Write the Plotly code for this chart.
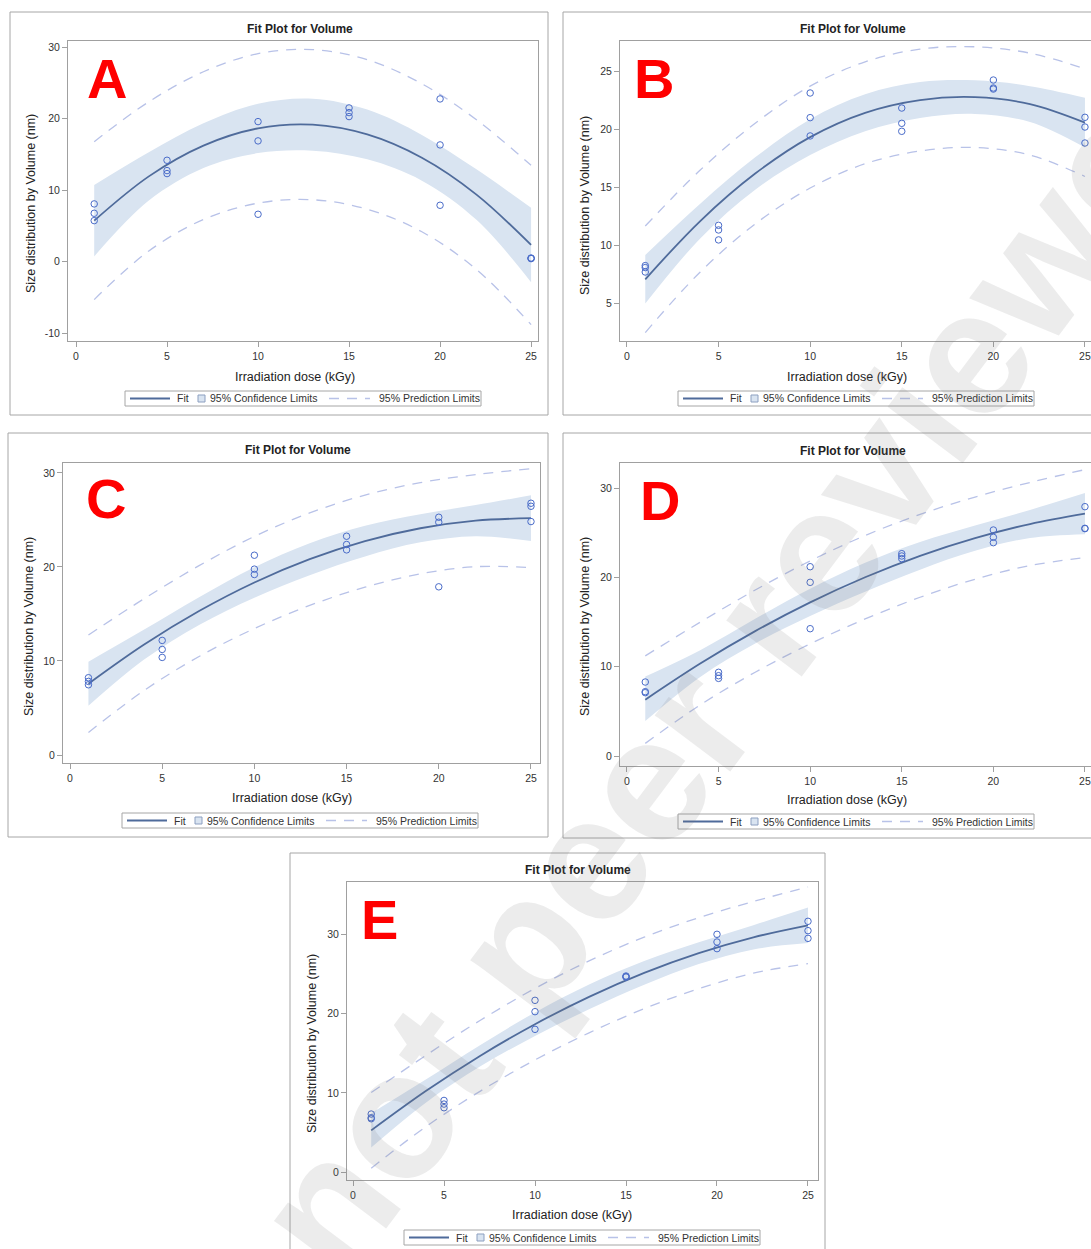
import plotly.graph_objects as go

W, H = 1091, 1249

# ---------------- data ----------------
dose_obs = [1, 1, 1, 5, 5, 5, 10, 10, 10, 15, 15, 15, 20, 20, 20, 25, 25, 25]
dose_grid = [1, 4, 7, 10, 13, 16, 19, 22, 25]

vol_A = [8.07, 6.76, 5.73, 14.17, 12.73, 12.31, 19.58, 16.88, 6.62,
         21.49, 20.84, 20.28, 22.75, 16.32, 7.88, 0.42, 0.50, 0.46]
fit_A = [5.73, 11.92, 16.22, 18.63, 19.15, 17.78, 14.52, 9.37, 2.33]
cl_lo_A = [0.73, 8.53, 13.09, 15.18, 15.51, 14.30, 11.32, 5.84, -2.87]
cl_hi_A = [10.73, 15.31, 19.35, 22.08, 22.79, 21.26, 17.72, 12.90, 7.53]
pl_lo_A = [-5.31, 1.49, 5.89, 8.18, 8.65, 7.33, 4.17, -1.10, -8.81]
pl_hi_A = [16.77, 22.35, 26.55, 29.08, 29.65, 28.23, 24.87, 19.84, 13.47]

vol_B = [8.25, 8.08, 7.70, 11.73, 11.33, 10.47, 23.16, 21.03, 19.45,
         21.86, 20.54, 19.85, 24.28, 23.59, 23.50, 21.06, 20.22, 18.84]
fit_B = [7.07, 12.10, 16.20, 19.35, 21.45, 22.55, 22.80, 22.20, 20.60]
cl_lo_B = [4.97, 10.60, 14.80, 17.80, 19.85, 21.00, 21.35, 20.65, 18.45]
cl_hi_B = [9.17, 13.60, 17.60, 20.90, 23.05, 24.10, 24.25, 23.75, 22.75]
pl_lo_B = [2.47, 7.70, 11.85, 14.95, 17.05, 18.15, 18.45, 17.80, 15.95]
pl_hi_B = [11.67, 16.50, 20.55, 23.75, 25.85, 26.95, 27.15, 26.60, 25.25]

vol_C = [8.22, 7.83, 7.47, 12.19, 11.23, 10.38, 21.25, 19.77, 19.20,
         23.27, 22.39, 21.82, 25.29, 24.76, 17.89, 26.78, 26.46, 24.83]
fit_C = [7.58, 11.72, 15.31, 18.35, 20.83, 22.75, 24.12, 24.93, 25.19]
cl_lo_C = [5.23, 10.12, 13.83, 16.73, 19.13, 21.12, 22.62, 23.28, 22.76]
cl_hi_C = [9.93, 13.32, 16.79, 19.97, 22.53, 24.38, 25.62, 26.58, 27.62]
pl_lo_C = [2.39, 6.84, 10.48, 13.45, 15.91, 17.85, 19.27, 20.03, 19.93]
pl_hi_C = [12.77, 16.60, 20.14, 23.25, 25.75, 27.65, 28.97, 29.83, 30.45]

vol_D = [8.28, 7.20, 7.09, 9.37, 8.99, 8.69, 21.19, 19.44, 14.25,
         22.65, 22.39, 22.09, 25.30, 24.48, 23.88, 27.91, 25.49, 25.45]
fit_D = [6.31, 10.35, 13.98, 17.20, 20.01, 22.41, 24.39, 25.97, 27.13]
cl_lo_D = [3.91, 8.85, 12.59, 15.67, 18.39, 20.86, 22.97, 24.40, 24.83]
cl_hi_D = [8.90, 11.85, 15.37, 18.73, 21.63, 23.96, 25.81, 27.54, 29.43]
pl_lo_D = [1.41, 5.72, 9.38, 12.56, 15.34, 17.77, 19.79, 21.32, 22.20]
pl_hi_D = [11.21, 14.98, 18.58, 21.84, 24.68, 27.05, 28.99, 30.62, 32.06]

vol_E = [7.32, 6.86, 6.73, 9.04, 8.58, 8.12, 21.67, 20.24, 18.01,
         24.74, 24.65, 24.61, 30.00, 29.03, 28.19, 31.64, 30.46, 29.49]
fit_E = [5.26, 10.22, 14.69, 18.66, 22.14, 25.13, 27.62, 29.62, 31.13]
cl_lo_E = [3.10, 8.76, 13.34, 17.17, 20.57, 23.63, 26.24, 28.09, 28.89]
cl_hi_E = [7.42, 11.68, 16.04, 20.15, 23.71, 26.63, 29.00, 31.15, 33.37]
pl_lo_E = [0.49, 5.72, 10.22, 14.15, 17.60, 20.62, 23.14, 25.10, 26.29]
pl_hi_E = [10.03, 14.72, 19.16, 23.17, 26.68, 29.64, 32.10, 34.14, 35.97]

x_ticks = [0, 5, 10, 15, 20, 25]
y_ticks_A = [-10, 0, 10, 20, 30]
y_ticks_B = [5, 10, 15, 20, 25]
y_ticks_CDE = [0, 10, 20, 30]

panel_letters = ["A", "B", "C", "D", "E"]
title_text = "Fit Plot for Volume"
x_title = "Irradiation dose (kGy)"
y_title = "Size distribution by Volume (nm)"
legend_labels = ["Fit", "95% Confidence Limits", "95% Prediction Limits"]
watermark_text = "not peer reviewed"

# ---------------- styling ----------------
FONT = "Liberation Sans, Arial, sans-serif"
FIT_COLOR = "#4f6b9b"
BAND_COLOR = "rgb(217,228,241)"
PL_COLOR = "rgb(184,194,232)"
MARK_COLOR = "#4a6cc9"
FRAME = "#a0a0a0"
TXT = "#222222"

panels = [
    dict(letter="A", obs=vol_A, fit=fit_A, cl=(cl_lo_A, cl_hi_A), pl=(pl_lo_A, pl_hi_A),
         frame=(68, 41, 538, 341), xr=[-0.44, 25.38], yr=[-11.1, 30.85], yt=y_ticks_A,
         box=(10, 12, 548, 415), title=(300, 29), xtl=(295, 377), ytl=(31, 204),
         leg=(125, 391), let=(107, 78), right=True),
    dict(letter="B", obs=vol_B, fit=fit_B, cl=(cl_lo_B, cl_hi_B), pl=(pl_lo_B, pl_hi_B),
         frame=(620, 41, 1091, 341), xr=[-0.38, 25.33], yr=[1.74, 27.65], yt=y_ticks_B,
         box=(563, 12, 1100, 415), title=(853, 29), xtl=(847, 377), ytl=(585, 205),
         leg=(678, 391), let=(654, 78), right=False),
    dict(letter="C", obs=vol_C, fit=fit_C, cl=(cl_lo_C, cl_hi_C), pl=(pl_lo_C, pl_hi_C),
         frame=(63, 463, 540, 763), xr=[-0.38, 25.49], yr=[-0.85, 31.06], yt=y_ticks_CDE,
         box=(8, 433, 548, 837), title=(298, 450), xtl=(292, 798), ytl=(29, 627),
         leg=(122, 813), let=(106, 499), right=True),
    dict(letter="D", obs=vol_D, fit=fit_D, cl=(cl_lo_D, cl_hi_D), pl=(pl_lo_D, pl_hi_D),
         frame=(620, 463, 1091, 766), xr=[-0.38, 25.33], yr=[-1.12, 32.8], yt=y_ticks_CDE,
         box=(563, 433, 1100, 838), title=(853, 451), xtl=(847, 800), ytl=(585, 626),
         leg=(678, 814), let=(660, 501), right=False),
    dict(letter="E", obs=vol_E, fit=fit_E, cl=(cl_lo_E, cl_hi_E), pl=(pl_lo_E, pl_hi_E),
         frame=(347, 882, 818, 1180), xr=[-0.33, 25.55], yr=[-1.0, 36.6], yt=y_ticks_CDE,
         box=(290, 853, 825, 1262), title=(578, 870), xtl=(572, 1215), ytl=(312, 1044),
         leg=(404, 1230), let=(379, 919), right=True),
]


def px(v):
    return v / W


def py(v):
    return 1 - v / H


fig = go.Figure()
shapes = []
annotations = []
layout_axes = {}

for i, p in enumerate(panels, start=1):
    sfx = "" if i == 1 else str(i)
    xa, ya = "x" + sfx, "y" + sfx
    lo, hi = p["cl"]
    plo, phi = p["pl"]
    # confidence band
    fig.add_trace(go.Scatter(x=dose_grid, y=lo, xaxis=xa, yaxis=ya, mode="lines",
                             line=dict(width=0, shape="spline", color=BAND_COLOR),
                             showlegend=False, hoverinfo="skip"))
    fig.add_trace(go.Scatter(x=dose_grid, y=hi, xaxis=xa, yaxis=ya, mode="lines",
                             fill="tonexty", fillcolor=BAND_COLOR,
                             line=dict(width=0, shape="spline", color=BAND_COLOR),
                             name="95% Confidence Limits", showlegend=False))
    # prediction limits
    for arr in (plo, phi):
        fig.add_trace(go.Scatter(x=dose_grid, y=arr, xaxis=xa, yaxis=ya, mode="lines",
                                 line=dict(width=1.3, shape="spline", color=PL_COLOR,
                                           dash="10px,8px"),
                                 name="95% Prediction Limits", showlegend=False))
    # fit
    fig.add_trace(go.Scatter(x=dose_grid, y=p["fit"], xaxis=xa, yaxis=ya, mode="lines",
                             line=dict(width=1.8, shape="spline", color=FIT_COLOR),
                             name="Fit", showlegend=False))
    # observations
    fig.add_trace(go.Scatter(x=dose_obs, y=p["obs"], xaxis=xa, yaxis=ya, mode="markers",
                             marker=dict(symbol="circle-open", size=6.5, color=MARK_COLOR,
                                         line=dict(width=1, color=MARK_COLOR)),
                             name="Volume", showlegend=False))

    fx0, fy0, fx1, fy1 = p["frame"]
    layout_axes["xaxis" + sfx] = dict(
        domain=[px(fx0), px(fx1)], anchor=ya, range=p["xr"],
        tickvals=x_ticks, ticktext=[str(t) for t in x_ticks],
        ticks="outside", ticklen=5, tickcolor=FRAME, tickwidth=1,
        showline=True, linecolor=FRAME, linewidth=1, mirror=True,
        showgrid=False, zeroline=False, fixedrange=True,
        tickfont=dict(family=FONT, size=10.5, color="#333333"))
    layout_axes["yaxis" + sfx] = dict(
        domain=[py(fy1), py(fy0)], anchor=xa, range=p["yr"],
        tickvals=p["yt"], ticktext=[str(t) for t in p["yt"]],
        ticks="outside", ticklen=5, tickcolor=FRAME, tickwidth=1,
        showline=True, linecolor=FRAME, linewidth=1, mirror=p["right"],
        showgrid=False, zeroline=False, fixedrange=True,
        tickfont=dict(family=FONT, size=10.5, color="#333333"))

    # outer panel box
    bx0, by0, bx1, by1 = p["box"]
    shapes.append(dict(type="rect", xref="paper", yref="paper",
                       x0=px(bx0), x1=px(bx1), y0=py(by1), y1=py(by0),
                       line=dict(color="#a6a6a6", width=1), fillcolor="rgba(0,0,0,0)",
                       layer="below"))

    # titles
    annotations.append(dict(text="<b>" + title_text + "</b>", x=px(p["title"][0]),
                            y=py(p["title"][1]), xref="paper", yref="paper",
                            showarrow=False, xanchor="center", yanchor="middle",
                            font=dict(family=FONT, size=12, color=TXT)))
    annotations.append(dict(text=x_title, x=px(p["xtl"][0]), y=py(p["xtl"][1]),
                            xref="paper", yref="paper", showarrow=False,
                            xanchor="center", yanchor="middle",
                            font=dict(family=FONT, size=12.5, color=TXT)))
    annotations.append(dict(text=y_title, x=px(p["ytl"][0]), y=py(p["ytl"][1]),
                            xref="paper", yref="paper", showarrow=False, textangle=-90,
                            xanchor="center", yanchor="middle",
                            font=dict(family=FONT, size=12.5, color=TXT)))
    # panel letter
    annotations.append(dict(text="<b>" + p["letter"] + "</b>", x=px(p["let"][0]),
                            y=py(p["let"][1]), xref="paper", yref="paper",
                            showarrow=False, xanchor="center", yanchor="middle",
                            font=dict(family=FONT, size=56, color="#ff0000")))

    # legend (drawn per panel)
    L, T = p["leg"]
    cy = T + 7.5
    shapes.append(dict(type="rect", xref="paper", yref="paper",
                       x0=px(L), x1=px(L + 356), y0=py(T + 15), y1=py(T),
                       line=dict(color="#a6a6a6", width=1), fillcolor="white"))
    shapes.append(dict(type="line", xref="paper", yref="paper",
                       x0=px(L + 5), x1=px(L + 45), y0=py(cy), y1=py(cy),
                       line=dict(color=FIT_COLOR, width=1.8)))
    shapes.append(dict(type="rect", xref="paper", yref="paper",
                       x0=px(L + 73), x1=px(L + 80), y0=py(cy + 3.5), y1=py(cy - 3.5),
                       line=dict(color="#8c9fc0", width=1), fillcolor=BAND_COLOR))
    shapes.append(dict(type="line", xref="paper", yref="paper",
                       x0=px(L + 204), x1=px(L + 245), y0=py(cy), y1=py(cy),
                       line=dict(color=PL_COLOR, width=1.3, dash="10px,8px")))
    for txt, off in zip(legend_labels, (50, 83, 252)):
        annotations.append(dict(text=txt, x=px(L + off), y=py(cy), xref="paper",
                                yref="paper", showarrow=False, xanchor="left",
                                yanchor="middle",
                                font=dict(family=FONT, size=10.5, color="#333333")))

# watermark (diagonal, semi-transparent, as in the reference)
annotations.append(dict(text="<b>" + watermark_text + "</b>", x=px(748), y=py(645),
                        xref="paper", yref="paper", showarrow=False, textangle=-53,
                        xanchor="center", yanchor="middle",
                        font=dict(family=FONT, size=178, color="rgba(120,120,120,0.14)")))

fig.update_layout(
    width=W, height=H, autosize=False,
    margin=dict(l=0, r=0, t=0, b=0, pad=0),
    paper_bgcolor="white", plot_bgcolor="white",
    showlegend=False, shapes=shapes, annotations=annotations,
    font=dict(family=FONT, color=TXT),
    **layout_axes,
)

fig.write_html("out.html")
